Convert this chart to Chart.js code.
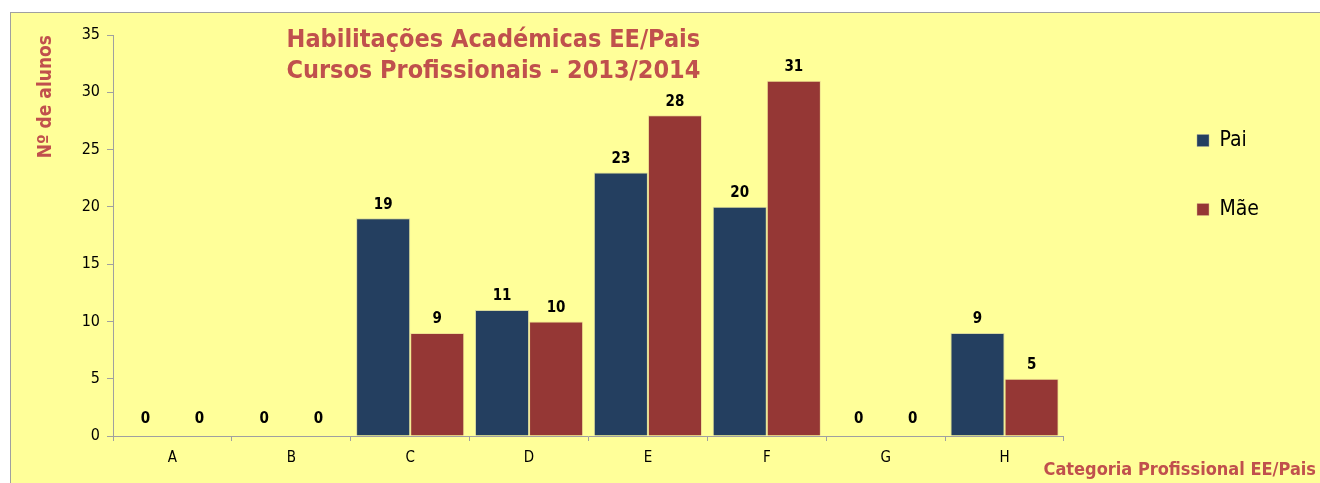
<!DOCTYPE html>
<html>
<head>
<meta charset="utf-8">
<script src="https://cdn.jsdelivr.net/npm/chart.js@4"></script>
<style>
html, body { margin: 0; padding: 0; background: #fff; }
#frame {
    position: absolute; left: 10px; top: 12px;
    width: 1309px; height: 470px;
    background: #ffff99;
    border-top: 1px solid #a0a0a0;
    border-left: 1px solid #a0a0a0;
}
</style>
</head>
<body>
<div id="frame"><canvas id="chart"></canvas></div>
<script>
var categories = ['A', 'B', 'C', 'D', 'E', 'F', 'G', 'H'];
var pai = [0, 0, 19, 11, 23, 20, 0, 9];
var mae = [0, 0, 9, 10, 28, 31, 0, 5];
var titleLines = ['Habilitações Académicas EE/Pais', 'Cursos Profissionais - 2013/2014'];
var yTitle = 'Nº de alunos';
var xTitle = 'Categoria Profissional EE/Pais';

var FONT = '"DejaVu Sans Condensed", "DejaVu Sans", sans-serif';
var RED = '#c0504d';
var AXIS = '#a0a0a0';
Chart.defaults.font.family = FONT;
Chart.defaults.color = '#000';

// value labels above each bar
var barLabels = {
    id: 'barLabels',
    afterDatasetsDraw: function(chart) {
        var ctx = chart.ctx;
        ctx.save();
        ctx.font = 'bold 15px ' + FONT;
        ctx.fillStyle = '#000';
        ctx.textAlign = 'center';
        ctx.textBaseline = 'bottom';
        chart.data.datasets.forEach(function(ds, i) {
            chart.getDatasetMeta(i).data.forEach(function(bar, j) {
                var gap = ds.data[j] === 0 ? 9 : 6;
                ctx.fillText(ds.data[j], bar.x, bar.y - gap);
            });
        });
        ctx.restore();
    }
};

// chart title sits over the plot, x title at bottom right of the frame
var overlayText = {
    id: 'overlayText',
    afterDraw: function(chart) {
        var ctx = chart.ctx;
        var a = chart.chartArea;
        ctx.save();
        ctx.fillStyle = RED;
        ctx.textAlign = 'center';
        ctx.textBaseline = 'middle';
        ctx.font = 'bold 25px ' + FONT;
        ctx.fillText(titleLines[0], a.left + a.width * 0.4, a.top + 5);
        ctx.fillText(titleLines[1], a.left + a.width * 0.4, a.top + 36);
        ctx.font = 'bold 18px ' + FONT;
        ctx.textAlign = 'right';
        ctx.fillText(xTitle, chart.width - 4, chart.height - 13);
        ctx.restore();
    }
};

var ctx = document.getElementById('chart').getContext('2d');
ctx.canvas.width = 1309;
ctx.canvas.height = 470;
var chart = new Chart(ctx, {
    type: 'bar',
    data: {
        labels: categories,
        datasets: [{
            label: 'Pai',
            data: pai,
            backgroundColor: '#243f60',
            borderColor: 'rgba(170,170,160,0.45)',
            borderWidth: 1
        }, {
            label: 'Mãe',
            data: mae,
            backgroundColor: '#953735',
            borderColor: 'rgba(220,190,140,0.45)',
            borderWidth: 1
        }]
    },
    options: {
        responsive: false,
        animation: false,
        layout: {
            padding: { left: 18, right: 51, top: 22, bottom: 0 }
        },
        datasets: {
            bar: { categoryPercentage: 0.91, barPercentage: 1 }
        },
        scales: {
            x: {
                grid: { offset: true, drawOnChartArea: false, tickLength: 5, color: AXIS },
                border: { color: AXIS },
                ticks: { font: { size: 15 }, padding: 8 },
                afterFit: function(s) { s.height = 47; }
            },
            y: {
                min: 0,
                max: 35,
                ticks: { stepSize: 5, font: { size: 16 }, padding: 7 },
                grid: { drawOnChartArea: false, tickLength: 6, color: AXIS },
                border: { color: AXIS },
                title: {
                    display: true,
                    text: yTitle,
                    align: 'end',
                    color: RED,
                    font: { size: 19, weight: 'bold' },
                    padding: { top: 6, bottom: 0 }
                },
                afterFit: function(s) { s.width = 84; }
            },
            // empty right axis only to keep the legend clear of the plot
            yr: {
                position: 'right',
                grid: { display: false },
                border: { display: false },
                ticks: { display: false },
                afterFit: function(s) { s.width = 85; }
            }
        },
        plugins: {
            legend: {
                position: 'right',
                align: 'start',
                title: { display: true, text: ' ', font: { size: 10 }, padding: 17.5 },
                labels: {
                    boxWidth: 12,
                    boxHeight: 12,
                    padding: 48,
                    font: { size: 21 }
                }
            },
            tooltip: { enabled: false }
        }
    },
    plugins: [barLabels, overlayText]
});
</script>
</body>
</html>
